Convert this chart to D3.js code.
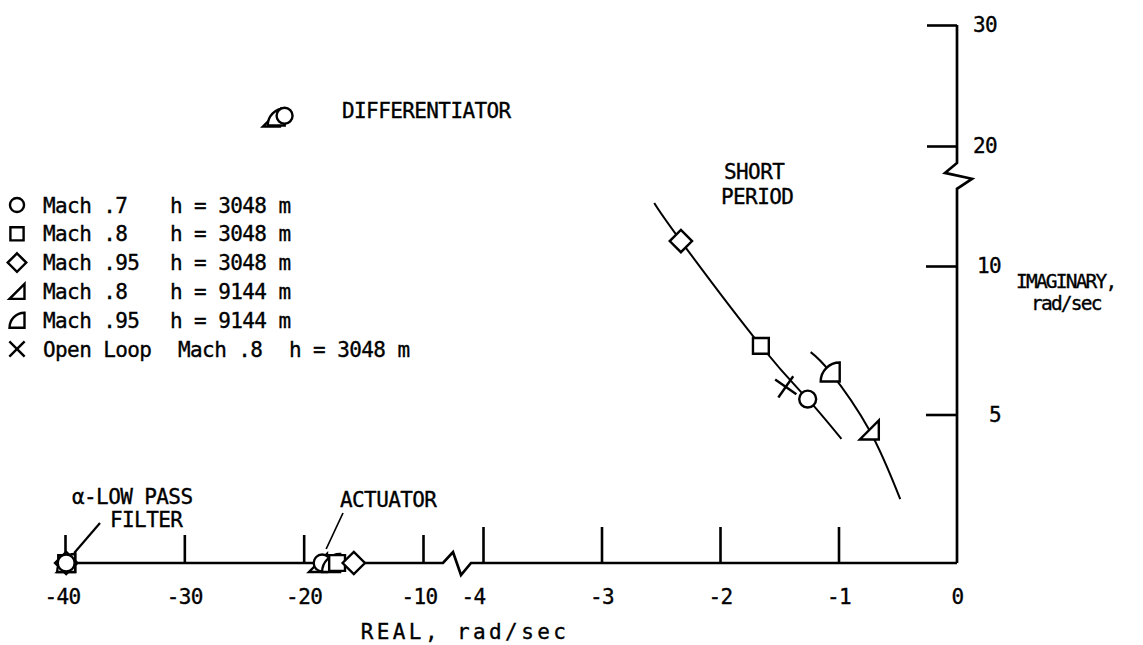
<!DOCTYPE html>
<html>
<head>
<meta charset="utf-8">
<script src="https://cdn.jsdelivr.net/npm/d3@7"></script>
<style>
  html, body { margin: 0; padding: 0; background: #fff; }
  svg { display: block; }
  text { font-family: "DejaVu Sans Mono", monospace; font-size: 21px; letter-spacing: -0.6px;
         fill: #000; stroke: #000; stroke-width: 0.35px; }
</style>
</head>
<body>
<svg id="chart" width="1143" height="645"></svg>
<script>
// ---- axis ticks (both axes are broken into two linear segments) ----
const realTicksFar  = [-40, -30, -20, -10];
const realTicksNear = [-4, -3, -2, -1, 0];
const imagTicksLow  = [5, 10];
const imagTicksHigh = [20, 30];

// ---- legend ----
const legendSymbols = ["circle", "square", "diamond", "tri", "quarter", "cross"];
const legendCases   = ["Mach .7", "Mach .8", "Mach .95", "Mach .8", "Mach .95", "Open Loop"];
const legendMach    = ["", "", "", "", "", "Mach .8"];
const legendAlt     = ["h = 3048 m", "h = 3048 m", "h = 3048 m", "h = 9144 m", "h = 9144 m", "h = 3048 m"];

// ---- roots (real, imaginary) ----
// differentiator
const diffSym = ["tri", "quarter", "circle"];
const diffRe  = [-22.7, -22.3, -21.6];
const diffIm  = [22.3, 22.4, 22.5];
// alpha low-pass filter
const lpfSym = ["square", "diamond", "tri", "quarter", "circle"];
const lpfRe  = [-39.9, -39.9, -39.9, -39.9, -39.9];
const lpfIm  = [0, 0, 0, 0, 0];
// actuator
const actSym = ["tri", "circle", "quarter", "square", "diamond"];
const actRe  = [-18.8, -18.45, -17.7, -17.2, -15.8];
const actIm  = [0, 0, 0, 0, 0];
// short period, h = 3048 m
const sp1Sym = ["diamond", "square", "cross", "circle"];
const sp1Re  = [-2.33, -1.655, -1.445, -1.26];
const sp1Im  = [10.84, 7.31, 5.93, 5.52];
// short period, h = 9144 m
const sp2Sym = ["quarter", "tri"];
const sp2Re  = [-1.07, -0.74];
const sp2Im  = [6.43, 4.48];
// short-period loci
const locus1Re = [-2.555, -2.33, -1.655, -1.26, -0.975];
const locus1Im = [12.12, 10.84, 7.31, 5.52, 4.18];
const locus2Re = [-1.235, -1.07, -0.74, -0.479];
const locus2Im = [7.10, 6.43, 4.48, 2.15];

// ---- scales ----
const xFar  = d3.scaleLinear().domain([-40, -10]).range([65, 423]);
const xNear = d3.scaleLinear().domain([-4, 0]).range([483, 957]);
const yLow  = d3.scaleLinear().domain([0, 10]).range([563, 266]);
const yHigh = d3.scaleLinear().domain([20, 30]).range([146, 25]);
const xr = v => (v < -7 ? xFar(v) : xNear(v));
const yi = v => (v > 16 ? yHigh(v) : yLow(v));

const svg = d3.select("#chart");
const ink = "#000";

// ---- axis lines with break marks ----
const line = d3.line();
const x0 = xNear(0), yAxis = yLow(0);
const xBreak = xFar(-10) + 20;
svg.append("path")
  .attr("d", line([[xFar(-40), yAxis], [xBreak, yAxis], [xBreak + 10, yAxis - 11],
                   [xBreak + 18, yAxis + 12], [xBreak + 28, yAxis], [x0, yAxis]]))
  .attr("fill", "none").attr("stroke", ink).attr("stroke-width", 2.7)
  .attr("stroke-linejoin", "miter");
const yBreakLow = yLow(12.6), yBreakHigh = yHigh(18.6);
svg.append("path")
  .attr("d", line([[x0, yAxis], [x0, yBreakLow], [x0 + 15, yBreakLow - 10],
                   [x0 - 12, yBreakHigh + 10], [x0, yBreakHigh], [x0, yHigh(30)]]))
  .attr("fill", "none").attr("stroke", ink).attr("stroke-width", 2.7)
  .attr("stroke-linejoin", "miter");

// ---- tick marks and labels ----
function styleAxis(g) {
  g.attr("font-family", null).attr("font-size", null);
  g.select(".domain").remove();
  g.selectAll(".tick line").attr("stroke", ink).attr("stroke-width", 2.6);
  g.selectAll(".tick text").attr("fill", ink);
}
// small nudges for labels that sit off-centre of their tick
const labelNudge = new Map([[-40, -3], [-10, -4], [-4, -10], [5, 12]]);
function nudge(g, attr) {
  g.selectAll(".tick text").attr(attr, d => (labelNudge.get(d) || 0));
}
svg.append("g").attr("transform", `translate(0,${yAxis})`)
  .call(d3.axisBottom(xFar).tickValues(realTicksFar).tickSizeInner(-28).tickSizeOuter(0)
        .tickPadding(26).tickFormat(d => String(d)))
  .call(styleAxis).call(g => nudge(g, "dx"));
svg.append("g").attr("transform", `translate(0,${yAxis})`)
  .call(d3.axisBottom(xNear).tickValues(realTicksNear).tickSizeInner(-36).tickSizeOuter(0)
        .tickPadding(26).tickFormat(d => String(d)))
  .call(styleAxis).call(g => nudge(g, "dx"))
  .call(g => g.selectAll(".tick").filter(d => d === 0).select("line").remove());
svg.append("g").attr("transform", `translate(${x0},0)`)
  .call(d3.axisRight(yLow).tickValues(imagTicksLow).tickSizeInner(-31).tickSizeOuter(0)
        .tickPadding(20).tickFormat(d => String(d)))
  .call(styleAxis).call(g => nudge(g, "dx"));
svg.append("g").attr("transform", `translate(${x0},0)`)
  .call(d3.axisRight(yHigh).tickValues(imagTicksHigh).tickSizeInner(-30).tickSizeOuter(0)
        .tickPadding(16).tickFormat(d => String(d)))
  .call(styleAxis);

// ---- axis titles ----
svg.append("text").attr("x", 465).attr("y", 639).attr("text-anchor", "middle")
  .style("letter-spacing", "3.4px").text("REAL, rad/sec");
svg.append("text").attr("x", 1016).attr("y", 288).style("font-size", "19.5px").style("letter-spacing", "-1.8px")
  .text("IMAGINARY,");
svg.append("text").attr("x", 1031).attr("y", 310).style("font-size", "19.5px").style("letter-spacing", "-1.8px")
  .text("rad/sec");

// ---- loci ----
const locus = d3.line().x(d => xr(d[0])).y(d => yi(d[1])).curve(d3.curveNatural);
[[locus1Re, locus1Im], [locus2Re, locus2Im]].forEach(([re, im]) => {
  svg.append("path").attr("d", locus(d3.zip(re, im)))
    .attr("fill", "none").attr("stroke", ink).attr("stroke-width", 2);
});

// ---- symbols ----
function symbolPath(type, s) {
  const p = d3.path();
  if (type === "circle") {
    p.arc(0, 0, s * 0.47, 0, 2 * Math.PI); p.closePath();
  } else if (type === "square") {
    const h = s * 0.44; p.rect(-h, -h, 2 * h, 2 * h);
  } else if (type === "diamond") {
    const h = s * 0.62;
    p.moveTo(0, -h); p.lineTo(h, 0); p.lineTo(0, h); p.lineTo(-h, 0); p.closePath();
  } else if (type === "tri") {
    const h = s * 0.5;
    p.moveTo(h, -h); p.lineTo(h, h); p.lineTo(-h, h); p.closePath();
  } else if (type === "quarter") {
    const h = s * 0.5;
    p.moveTo(-h, h); p.arc(h, h, 2 * h, Math.PI, 1.5 * Math.PI); p.lineTo(h, h); p.closePath();
  }
  return p.toString();
}
function drawSymbol(g, type, s, angle) {
  if (type === "cross") {
    const a = (angle || 45) * Math.PI / 180, r = s * 0.72;
    [a, a + Math.PI / 2].forEach(t => {
      g.append("line")
        .attr("x1", -r * Math.cos(t)).attr("y1", -r * Math.sin(t))
        .attr("x2", r * Math.cos(t)).attr("y2", r * Math.sin(t))
        .attr("stroke", ink).attr("stroke-width", 2.4);
    });
  } else {
    g.append("path").attr("d", symbolPath(type, s))
      .attr("fill", "#fff").attr("stroke", ink).attr("stroke-width", 2.4)
      .attr("stroke-linejoin", "miter");
  }
}
function plotRoots(sym, re, im, size, crossAngle) {
  sym.forEach((t, i) => {
    const g = svg.append("g").attr("transform", `translate(${xr(re[i])},${yi(im[i])})`);
    drawSymbol(g, t, size, crossAngle);
  });
}
plotRoots(lpfSym, lpfRe, lpfIm, 18);
plotRoots(actSym, actRe, actIm, 18);
plotRoots(diffSym, diffRe, diffIm, 17);
plotRoots(sp1Sym, sp1Re, sp1Im, 18, 35);
plotRoots(sp2Sym, sp2Re, sp2Im, 19);

// ---- annotations ----
svg.append("text").attr("x", 342).attr("y", 118).text("DIFFERENTIATOR");
svg.append("text").attr("x", 724).attr("y", 179).text("SHORT");
svg.append("text").attr("x", 721).attr("y", 204).text("PERIOD");
svg.append("text").attr("x", 72).attr("y", 504).text("\u03b1-LOW PASS");
svg.append("text").attr("x", 110).attr("y", 527).text("FILTER");
svg.append("text").attr("x", 340).attr("y", 507).text("ACTUATOR");
svg.append("line").attr("x1", 100).attr("y1", 523).attr("x2", xr(lpfRe[0]) + 8).attr("y2", yi(0) - 10)
  .attr("stroke", ink).attr("stroke-width", 2.2);
svg.append("line").attr("x1", 343).attr("y1", 513).attr("x2", xr(actRe[1]) + 4).attr("y2", yi(0) - 14)
  .attr("stroke", ink).attr("stroke-width", 1.7);

// ---- legend ----
const legendTop = 205, legendStep = 28.8;
legendSymbols.forEach((t, i) => {
  const cy = legendTop + i * legendStep;
  const g = svg.append("g").attr("transform", `translate(17,${cy})`);
  drawSymbol(g, t, 15, 45);
  const base = cy + 7.5;
  svg.append("text").attr("x", 43).attr("y", base).text(legendCases[i]);
  if (legendMach[i]) {
    svg.append("text").attr("x", 178).attr("y", base).text(legendMach[i]);
    svg.append("text").attr("x", 289).attr("y", base).text(legendAlt[i]);
  } else {
    svg.append("text").attr("x", 170).attr("y", base).text(legendAlt[i]);
  }
});
</script>
</body>
</html>
